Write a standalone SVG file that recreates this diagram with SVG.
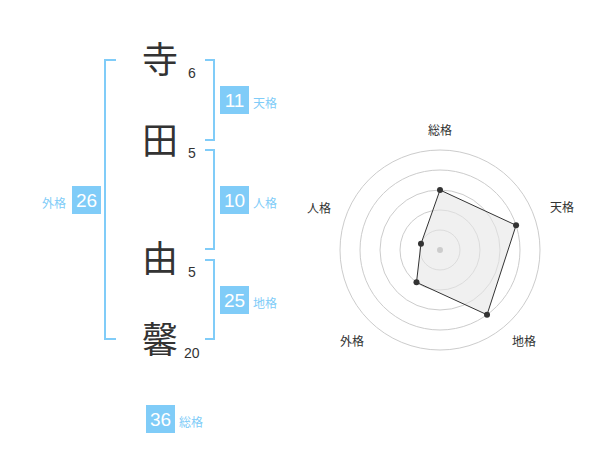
<svg xmlns="http://www.w3.org/2000/svg" width="600" height="470" viewBox="0 0 600 470">
<style>
.br{fill:none;stroke:#80ccf8;stroke-width:2}
.ch{font-family:"Noto Sans CJK JP","Noto Sans CJK SC",sans-serif;font-size:36px;fill:#333;text-anchor:middle}
.st{font-family:"Liberation Sans",Arial,sans-serif;font-size:14px;fill:#333}
.bx{fill:#80ccf8}
.bn{font-family:"Liberation Sans",Arial,sans-serif;font-size:19px;fill:#fff;text-anchor:middle}
.lb{font-family:"Noto Sans CJK JP","Noto Sans CJK SC",sans-serif;font-size:12px;fill:#80ccf8}
.ring{fill:none;stroke:#ccc;stroke-width:1}
.rl{font-family:"Noto Sans CJK JP","Noto Sans CJK SC",sans-serif;font-size:12px;fill:#333;text-anchor:middle}
.pt{fill:#333}
</style>
<g id="connectors">
<path class="br" d="M116,60 H105 V339 H116"/>
<path class="br" d="M205,60 H214 V140 H205"/>
<path class="br" d="M205,150 H214 V249 H205"/>
<path class="br" d="M205,260 H214 V339 H205"/>
</g>
<g id="char-tera"><text class="ch" x="160" y="73">寺</text><text class="st" x="188" y="78">6</text></g>
<g id="char-ta"><text class="ch" x="160" y="154">田</text><text class="st" x="188" y="158">5</text></g>
<g id="char-yu"><text class="ch" x="160" y="272">由</text><text class="st" x="188" y="277">5</text></g>
<g id="char-kaori"><text class="ch" x="160" y="353">馨</text><text class="st" x="184" y="358">20</text></g>
<g id="tenkaku"><rect class="bx" x="220" y="86" width="29" height="28"/><text class="bn" x="234.5" y="107">11</text><text class="lb" x="253" y="108">天格</text></g>
<g id="jinkaku"><rect class="bx" x="220" y="186" width="29" height="28"/><text class="bn" x="234.5" y="207">10</text><text class="lb" x="253" y="208">人格</text></g>
<g id="gaikaku"><rect class="bx" x="72" y="186" width="29" height="28"/><text class="bn" x="86.5" y="207">26</text><text class="lb" x="66" y="208" text-anchor="end">外格</text></g>
<g id="chikaku"><rect class="bx" x="220" y="286" width="29" height="28"/><text class="bn" x="234.5" y="307">25</text><text class="lb" x="253" y="308">地格</text></g>
<g id="soukaku"><rect class="bx" x="146" y="405" width="29" height="28"/><text class="bn" x="160.5" y="426">36</text><text class="lb" x="179" y="427">総格</text></g>
<g id="radar">
<circle class="ring" cx="440" cy="250" r="20"/>
<circle class="ring" cx="440" cy="250" r="40"/>
<circle class="ring" cx="440" cy="250" r="60"/>
<circle class="ring" cx="440" cy="250" r="80"/>
<circle class="ring" cx="440" cy="250" r="100"/>
<polygon points="440,190 516.08,225.28 487.02,314.72 416.49,282.36 420.98,243.82" fill="#e6e6e6" fill-opacity="0.6" stroke="#333" stroke-width="1"/>
<circle cx="440" cy="250" r="3" fill="#ccc"/>
<circle class="pt" cx="440" cy="190" r="3"/>
<circle class="pt" cx="516.08" cy="225.28" r="3"/>
<circle class="pt" cx="487.02" cy="314.72" r="3"/>
<circle class="pt" cx="416.49" cy="282.36" r="3"/>
<circle class="pt" cx="420.98" cy="243.82" r="3"/>
<text class="rl" x="440" y="135">総格</text>
<text class="rl" x="562" y="212">天格</text>
<text class="rl" x="524" y="346">地格</text>
<text class="rl" x="352" y="346">外格</text>
<text class="rl" x="319" y="213">人格</text>
</g>
</svg>
